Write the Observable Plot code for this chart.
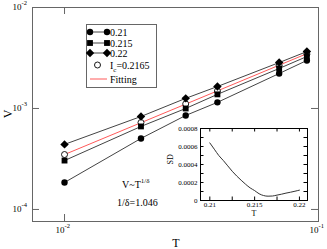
<!DOCTYPE html>
<html><head><meta charset="utf-8">
<script src="https://cdn.jsdelivr.net/npm/d3@7"></script>
<script src="https://cdn.jsdelivr.net/npm/@observablehq/plot@0.6"></script>
<style>
body{margin:0;background:#fff;}
#wrap{position:relative;width:327px;height:249px;font-family:"Liberation Serif",serif;}
#wrap svg{position:absolute;overflow:visible;}
</style></head><body><div id="wrap"></div>
<script>
// ---- data ----
const T = [0.01, 0.02, 0.03, 0.04, 0.07, 0.09];
const V021 = [1.85e-4, 5.05e-4, 8.53e-4, 1.15e-3, 2.22e-3, 2.99e-3];
const V0215 = [3.05e-4, 6.64e-4, 1.0e-3, 1.38e-3, 2.49e-3, 3.27e-3];
const V022 = [4.41e-4, 8.33e-4, 1.26e-3, 1.65e-3, 2.85e-3, 3.66e-3];
const VIc = [3.5e-4, 7.26e-4, 1.11e-3, 1.49e-3, 2.66e-3, 3.45e-3];
const fitT = [0.01, 0.09];
const fitV = [3.5e-4, 3.49e-3];
const xTicks = [0.01, 0.1];
const xTickExp = ["-2", "-1"];
const yTicks = [1e-4, 1e-3, 1e-2];
const yTickExp = ["-4", "-3", "-2"];

const sdT = [0.21, 0.2105, 0.211, 0.2115, 0.212, 0.2125, 0.213, 0.2135, 0.214, 0.2145, 0.215,
             0.2155, 0.216, 0.2165, 0.217, 0.2175, 0.218, 0.2185, 0.219, 0.2195, 0.22];
const sdV = [6.4e-4, 5.7e-4, 5.0e-4, 4.45e-4, 3.85e-4, 3.25e-4, 2.72e-4, 2.25e-4, 1.8e-4, 1.4e-4, 1.1e-4,
             0.75e-4, 0.55e-4, 0.48e-4, 0.5e-4, 0.6e-4, 0.7e-4, 0.82e-4, 0.92e-4, 1.03e-4, 1.15e-4];
const insetXLabels = [0.21, 0.215, 0.22];
const insetXTicks = [0.21, 0.2125, 0.215, 0.2175, 0.22];
const insetYLabels = [0, 0.0002, 0.0004, 0.0006, 0.0008];
const insetYTicks = [0, 0.0001, 0.0002, 0.0003, 0.0004, 0.0005, 0.0006, 0.0007, 0.0008];

const seriesNames = ["0.21", "0.215", "0.22"];
const seriesVals = [V021, V0215, V022];
const seriesSymbols = ["circle", "square", "diamond2"];
const seriesR = [3.2, 3.3, 3.8];

// ---- build tables ----
const rows = [];
seriesVals.forEach((vals, s) => vals.forEach((v, i) => rows.push({T: T[i], V: v, s: seriesNames[s]})));
const ic = T.map((t, i) => ({T: t, V: VIc[i]}));
const fit = fitT.map((t, i) => ({T: t, V: fitV[i]}));
const sd = sdT.map((t, i) => ({T: t, SD: sdV[i]}));

const wrap = document.getElementById("wrap");
const font = "Liberation Serif, serif";
const frameC = "#666";
const lineC = "#444";
const redC = "#ff5a5a";

const mainML = 32, mainMR = 9, mainMT = 7, mainMB = 28;
const fw = 327 - mainML - mainMR, fh = 249 - mainMT - mainMB;

const marks = [
  Plot.frame({stroke: frameC}),
  Plot.tickX(xTicks, {x: d => d, insetTop: fh - 7, stroke: frameC}),
  Plot.tickX(xTicks, {x: d => d, insetBottom: fh - 7, stroke: frameC}),
  Plot.tickY(yTicks, {y: d => d, insetRight: fw - 7, stroke: frameC}),
  Plot.tickY(yTicks, {y: d => d, insetLeft: fw - 7, stroke: frameC}),
  Plot.text(yTicks, {y: d => d, frameAnchor: "left", dx: -11, textAnchor: "end", text: () => "10", fontSize: 9}),
  Plot.text(yTicks, {y: d => d, frameAnchor: "left", dx: -11, dy: -4.5, textAnchor: "start", text: (d, i) => yTickExp[i], fontSize: 6.5}),
  Plot.text(xTicks, {x: d => d, frameAnchor: "bottom", dy: 11, textAnchor: "end", text: () => "10", fontSize: 9}),
  Plot.text(xTicks, {x: d => d, frameAnchor: "bottom", dy: 6.5, textAnchor: "start", text: (d, i) => xTickExp[i], fontSize: 6.5}),
];
seriesNames.forEach((n) => {
  marks.push(Plot.line(rows.filter(r => r.s === n), {x: "T", y: "V", stroke: lineC, strokeWidth: 1}));
});
marks.push(Plot.line(fit, {x: "T", y: "V", stroke: redC, strokeWidth: 1}));
marks.push(Plot.dot(ic, {x: "T", y: "V", r: 3, stroke: "#000", fill: "white", strokeWidth: 0.9}));
seriesNames.forEach((n, s) => {
  marks.push(Plot.dot(rows.filter(r => r.s === n), {x: "T", y: "V", symbol: () => seriesSymbols[s], r: seriesR[s], fill: "#000", stroke: "none"}));
});

const main = Plot.plot({
  width: 327, height: 249,
  marginLeft: mainML, marginRight: mainMR, marginTop: mainMT, marginBottom: mainMB,
  style: {fontFamily: font, background: "transparent", color: "#000"},
  x: {type: "log", domain: [0.00748, 0.1], axis: null},
  y: {type: "log", domain: [7.6e-5, 0.01], axis: null},
  symbol: {type: "identity"},
  marks
});
main.style.left = "0px"; main.style.top = "0px";
wrap.appendChild(main);

// ---- inset ----
const iw = 145, ih = 95, iML = 35, iMR = 3, iMT = 3, iMB = 20;
const ifw = iw - iML - iMR, ifh = ih - iMT - iMB;
const fmt = d => d === 0 ? "0" : d.toFixed(4);
const inset = Plot.plot({
  width: iw, height: ih, marginLeft: iML, marginRight: iMR, marginTop: iMT, marginBottom: iMB,
  style: {fontFamily: font, background: "transparent", color: "#000"},
  x: {domain: [0.20896, 0.2209], axis: null},
  y: {domain: [0, 0.0008], axis: null},
  marks: [
    Plot.frame({stroke: "#000", fill: "white"}),
    Plot.tickX(insetXTicks, {x: d => d, insetTop: ifh - 3.5, stroke: "#000"}),
    Plot.tickX(insetXTicks, {x: d => d, insetBottom: ifh - 3.5, stroke: "#000"}),
    Plot.tickY(insetYTicks, {y: d => d, insetRight: ifw - 3.5, stroke: "#000"}),
    Plot.tickY(insetYTicks, {y: d => d, insetLeft: ifw - 3.5, stroke: "#000"}),
    Plot.line(sd, {x: "T", y: "SD", stroke: "#333", strokeWidth: 1, curve: "monotone-x"}),
    Plot.text(insetYLabels, {y: d => d, frameAnchor: "left", dx: -3, textAnchor: "end", text: fmt, fontSize: 7}),
    Plot.text(insetXLabels, {x: d => d, frameAnchor: "bottom", dy: 6.5, text: d => String(d), fontSize: 7}),
    Plot.text(["T"], {frameAnchor: "bottom", dy: 15, text: d => d, fontSize: 8}),
    Plot.text(["SD"], {frameAnchor: "left", dx: -30, rotate: -90, text: d => d, fontSize: 8})
  ]
});
inset.style.left = "165px"; inset.style.top = "125px";
wrap.appendChild(inset);

// ---- legend & labels overlay ----
const ov = d3.select(wrap).append("svg").attr("width", 327).attr("height", 249)
  .style("left", "0px").style("top", "0px").style("font-family", font);
const lg = ov.append("g");
lg.append("rect").attr("x", 86.5).attr("y", 24.5).attr("width", 70).attr("height", 63)
  .attr("fill", "white").attr("stroke", frameC);
const rowY = [32, 43, 53, 65, 79];
const legendSym = [d3.symbolCircle, d3.symbolSquare, d3.symbolDiamond2];
seriesNames.forEach((n, s) => {
  const y = rowY[s];
  lg.append("line").attr("x1", 90).attr("x2", 107).attr("y1", y).attr("y2", y).attr("stroke", lineC);
  [90, 107].forEach(x => {
    lg.append("path").attr("transform", `translate(${x},${y})`)
      .attr("d", d3.symbol(legendSym[s]).size(Math.PI * seriesR[s] * seriesR[s])())
      .attr("fill", "#000");
  });
  lg.append("text").attr("x", 110).attr("y", y + 3.5).attr("font-size", 10).text(n);
});
lg.append("circle").attr("cx", 97.5).attr("cy", rowY[3]).attr("r", 3).attr("fill", "white").attr("stroke", "#000").attr("stroke-width", 0.9);
const ict = lg.append("text").attr("x", 110).attr("y", rowY[3] + 3.5).attr("font-size", 10);
ict.append("tspan").text("I");
ict.append("tspan").attr("font-size", 7).attr("dy", 3).text("c");
ict.append("tspan").attr("dy", -3).text("=0.2165");
lg.append("line").attr("x1", 90).attr("x2", 107).attr("y1", rowY[4]).attr("y2", rowY[4]).attr("stroke", redC);
lg.append("text").attr("x", 110).attr("y", rowY[4] + 3.5).attr("font-size", 10).text("Fitting");

const a1 = ov.append("text").attr("x", 122).attr("y", 188).attr("font-size", 10);
a1.append("tspan").text("V~T");
a1.append("tspan").attr("font-size", 7).attr("dy", -5).text("1/δ");
ov.append("text").attr("x", 117).attr("y", 206).attr("font-size", 10).text("1/δ=1.046");

ov.append("text").attr("x", 176).attr("y", 247).attr("font-size", 12).attr("text-anchor", "middle").text("T");
ov.append("text").attr("transform", "translate(12,114) rotate(-90)").attr("font-size", 12).attr("text-anchor", "middle").text("V");
</script></body></html>
